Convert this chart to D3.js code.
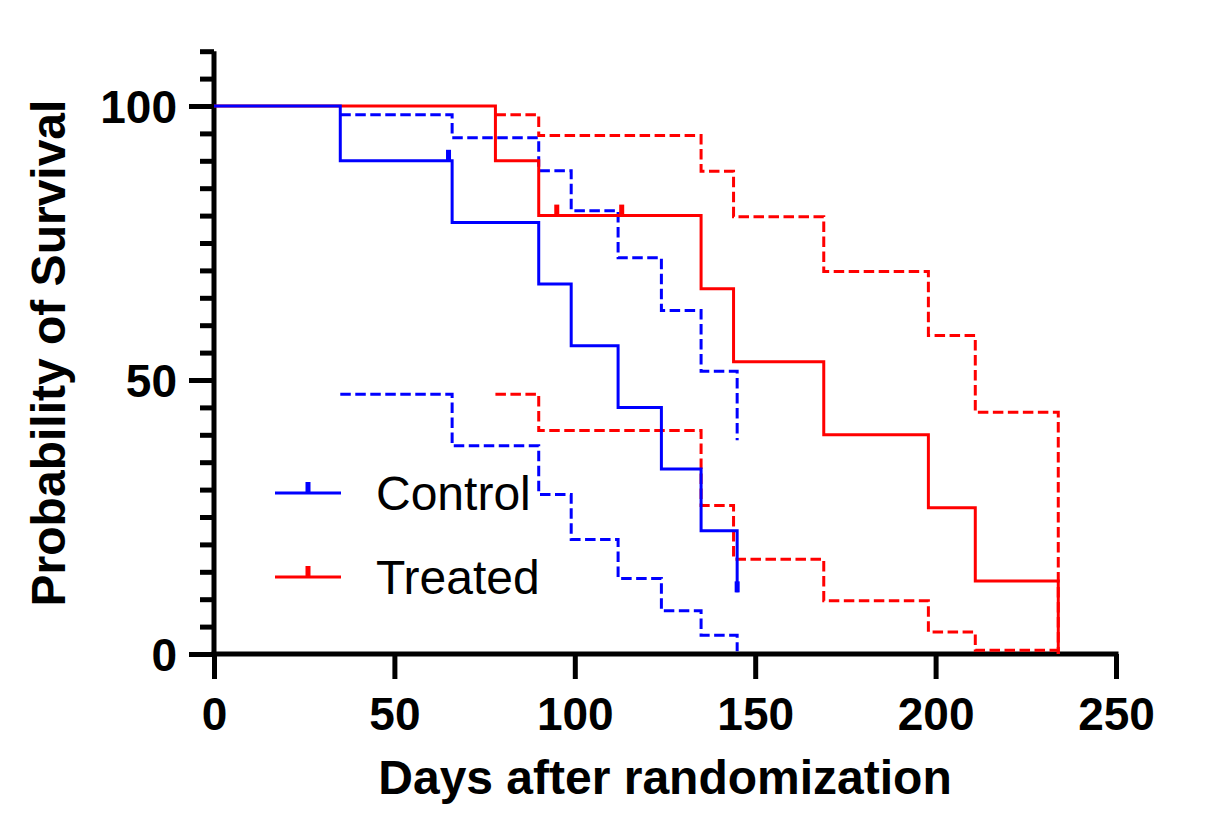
<!DOCTYPE html>
<html>
<head>
<meta charset="utf-8">
<script src="https://cdn.jsdelivr.net/npm/d3@7"></script>
<style>
  html, body { margin: 0; padding: 0; background: #fff; }
  svg { display: block; }
</style>
</head>
<body>
<svg id="chart" width="1225" height="838"></svg>
<script>
// ---- Data ----
const xTicks = [0, 50, 100, 150, 200, 250];
const yMajorTicks = [0, 50, 100];
const yMinorTicks = d3.range(0, 111, 5);

// Control (Kaplan-Meier)
const controlDays  = [0, 35, 66, 90, 99, 112, 124, 135, 145];
const controlSurv  = [100, 90, 78.75, 67.5, 56.25, 45, 33.75, 22.5, 11.25];
const controlCIDays = [35, 66, 90, 99, 112, 124, 135, 145];
const controlUpper = [98.4, 94.2, 88.2, 80.9, 72.3, 62.7, 51.6, 39.0];
const controlLower = [47.4, 38.0, 29.1, 20.9, 13.8, 7.9, 3.4, 0.5];
const controlCensorDays = [65, 145];
const controlCensorSurv = [90, 11.25];

// Treated (Kaplan-Meier)
const treatedDays  = [0, 78, 90, 135, 144, 169, 198, 211, 234];
const treatedSurv  = [100, 90, 80, 66.67, 53.33, 40, 26.67, 13.33, 0];
const treatedCIDays = [78, 90, 135, 144, 169, 198, 211, 234];
const treatedUpper = [98.4, 94.6, 88.1, 79.8, 69.8, 58.1, 44.1, 0];
const treatedLower = [47.4, 40.8, 27.1, 17.3, 9.7, 4.0, 0.7, 0.7];
const treatedCensorDays = [95, 113];
const treatedCensorSurv = [80, 80];

const groups = ["Control", "Treated"];
const colors = ["#0000ff", "#ff0000"];

// ---- Layout ----
const svg = d3.select("#chart");
const x = d3.scaleLinear().domain([0, 250]).range([214, 1116]);
const y = d3.scaleLinear().domain([0, 110]).range([654, 51.2]);

const font = "'Liberation Sans', Arial, Helvetica, sans-serif";

// ---- Axes ----
const yMinor = d3.axisLeft(y).tickValues(yMinorTicks).tickSize(14).tickSizeOuter(0).tickFormat("");
const yMajor = d3.axisLeft(y).tickValues(yMajorTicks).tickSize(25).tickSizeOuter(0).tickPadding(12);
const xAxis = d3.axisBottom(x).tickValues(xTicks).tickSize(25).tickSizeOuter(0);

const gYmin = svg.append("g").attr("transform", "translate(214,0)").call(yMinor);
const gYmaj = svg.append("g").attr("transform", "translate(214,0)").call(yMajor);
const gX = svg.append("g").attr("transform", "translate(0,654)").call(xAxis);

[gYmin, gYmaj, gX].forEach(g => {
  g.select(".domain").remove();
  g.selectAll(".tick line").attr("stroke", "#000").attr("stroke-width", 5);
});
gYmaj.selectAll(".tick text")
  .attr("fill", "#000")
  .style("font-family", font)
  .style("font-weight", "bold")
  .style("font-size", "46px")
  .attr("dy", "0.36em");
gX.selectAll(".tick text")
  .attr("fill", "#000")
  .style("font-family", font)
  .style("font-weight", "bold")
  .style("font-size", "46px")
  .attr("y", 76)
  .attr("dy", null);

// Axis lines
svg.append("line")
  .attr("x1", x(0)).attr("x2", x(0)).attr("y1", y(110)).attr("y2", y(0) + 2.5)
  .attr("stroke", "#000").attr("stroke-width", 5);
svg.append("line")
  .attr("x1", x(0) - 2.5).attr("x2", x(250) + 2.5).attr("y1", y(0)).attr("y2", y(0))
  .attr("stroke", "#000").attr("stroke-width", 5);

// Axis titles
svg.append("text")
  .attr("x", 665).attr("y", 794)
  .attr("text-anchor", "middle")
  .style("font-family", font).style("font-weight", "bold").style("font-size", "48px")
  .text("Days after randomization");
svg.append("text")
  .attr("transform", "translate(65,353) rotate(-90)")
  .attr("text-anchor", "middle")
  .style("font-family", font).style("font-weight", "bold").style("font-size", "48px")
  .text("Probability of Survival");

// ---- Curves ----
const step = d3.line().x(d => x(d[0])).y(d => y(d[1])).curve(d3.curveStepAfter);
const zip = (a, b) => a.map((v, i) => [v, b[i]]);

function drawCurve(days, vals, color, dashed) {
  svg.append("path")
    .datum(zip(days, vals))
    .attr("d", step)
    .attr("fill", "none")
    .attr("stroke", color)
    .attr("stroke-width", 3)
    .attr("stroke-dasharray", dashed ? "10.5,4.5" : null);
}

drawCurve(controlCIDays, controlUpper, colors[0], true);
drawCurve(controlCIDays, controlLower, colors[0], true);
drawCurve(treatedCIDays, treatedUpper, colors[1], true);
drawCurve(treatedCIDays, treatedLower, colors[1], true);
drawCurve(treatedDays, treatedSurv, colors[1], false);
drawCurve(controlDays, controlSurv, colors[0], false);

// Censor marks
function drawCensor(days, vals, color) {
  svg.selectAll(null)
    .data(zip(days, vals))
    .enter().append("rect")
    .attr("x", d => x(d[0]) - 2.5)
    .attr("y", d => y(d[1]) - 11)
    .attr("width", 5)
    .attr("height", 11)
    .attr("fill", color);
}
drawCensor(controlCensorDays, controlCensorSurv, colors[0]);
drawCensor(treatedCensorDays, treatedCensorSurv, colors[1]);

// ---- Legend ----
const legendY = [493, 577];
groups.forEach((g, i) => {
  const ly = legendY[i];
  svg.append("line")
    .attr("x1", 275).attr("x2", 341).attr("y1", ly).attr("y2", ly)
    .attr("stroke", colors[i]).attr("stroke-width", 3);
  svg.append("rect")
    .attr("x", 305.5).attr("y", ly - 11).attr("width", 5).attr("height", 11)
    .attr("fill", colors[i]);
  svg.append("text")
    .attr("x", 376).attr("y", ly + 17)
    .style("font-family", font).style("font-size", "48px")
    .attr("fill", "#000")
    .text(g);
});
</script>
</body>
</html>
